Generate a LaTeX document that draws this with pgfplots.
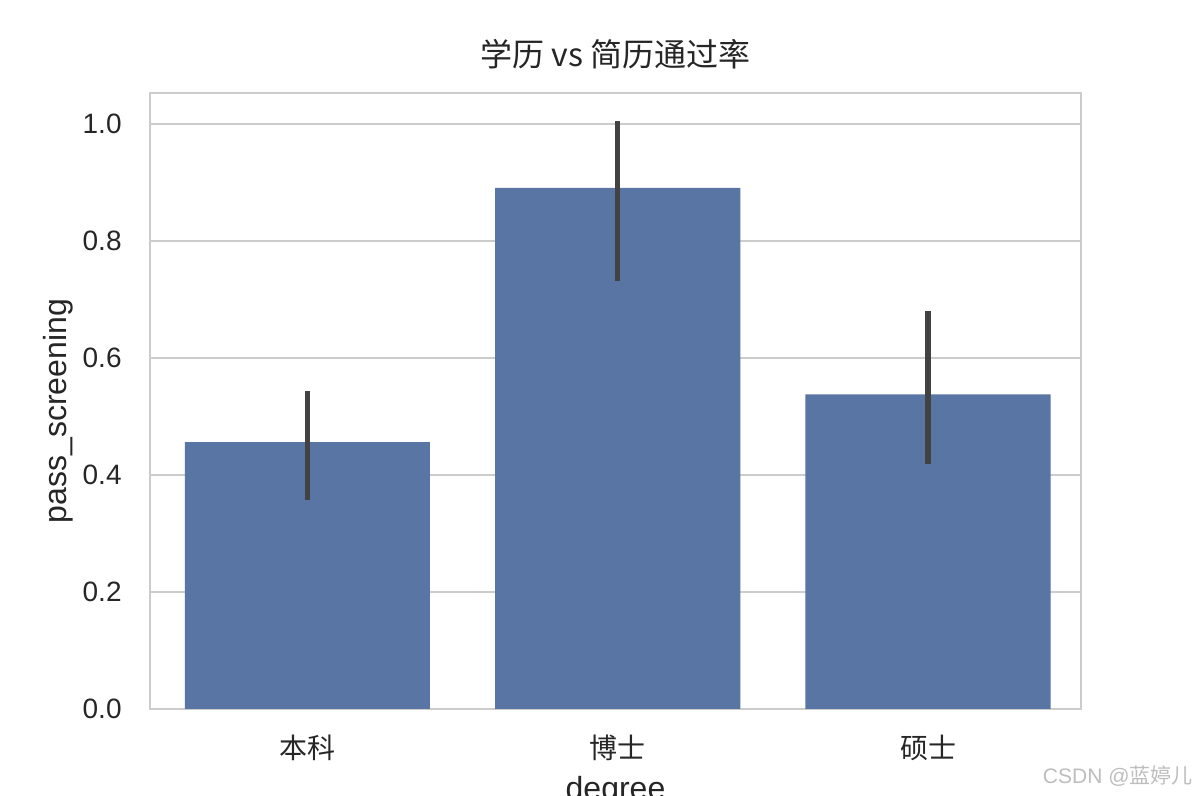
\documentclass[border=0pt]{standalone}
\usepackage{fontspec}
\setmainfont{Liberation Sans}
\newfontfamily\cjk{Noto Sans CJK SC}
\usepackage{pgfplots}
\pgfplotsset{compat=1.18}

\definecolor{barblue}{HTML}{5975A4}
\definecolor{errgray}{HTML}{424242}
\definecolor{gridgray}{HTML}{CCCCCC}
\definecolor{textgray}{HTML}{262626}
\definecolor{markgray}{HTML}{BDBDBD}

\begin{document}
\begin{tikzpicture}
\path[use as bounding box] (-75pt,-43.5pt) rectangle (524pt,354.5pt);
\begin{axis}[
    at={(0,0)}, anchor=south west,
    scale only axis, width=465.5pt, height=308pt,
    ybar, bar width=0.79,
    xmin=-0.507, xmax=2.493, ymin=0, ymax=1.053,
    xtick={0,1,2},
    xticklabels={{\cjk 本科},{\cjk 博士},{\cjk 硕士}},
    ytick={0,0.2,0.4,0.6,0.8,1.0},
    yticklabels={0.0,0.2,0.4,0.6,0.8,1.0},
    major tick length=0pt,
    tick style={draw=none},
    axis line style={draw=gridgray, line width=1.25pt},
    ymajorgrids, grid style={draw=gridgray, line width=1pt},
    ticklabel style={font=\fontsize{14}{16}\selectfont, text=textgray},
    yticklabel style={anchor=east, inner sep=0pt, xshift=-14pt},
    xticklabel style={anchor=center, inner sep=0pt, yshift=-19.5pt},
    title={\cjk 学历 vs 简历通过率},
    title style={at={(axis description cs:0.5,1)}, anchor=center, yshift=13.5pt,
        font=\fontsize{16}{18}\selectfont, text=textgray},
    xlabel={degree},
    xlabel style={at={(axis description cs:0.5,0)}, anchor=base, yshift=-45.5pt,
        font=\fontsize{16}{18}\selectfont, text=textgray},
    ylabel={pass\_screening},
    every axis y label/.style={at={(axis description cs:0,0.5)}, xshift=-46pt, yshift=-5pt,
        rotate=90, anchor=center, font=\fontsize{16}{18}\selectfont, text=textgray},
]
% mean pass rate per degree, with CI bounds
\addplot[fill=barblue, draw=none,
    error bars/.cd, y dir=both, y explicit,
    error bar style={draw=errgray, line width=2.8pt, line cap=rect},
    error mark=none]
coordinates {
    (0,0.456) += (0,0.082) -= (0,0.094)
    (1,0.891) += (0,0.109) -= (0,0.154)
    (2,0.538) += (0,0.137) -= (0,0.114)
};
\end{axis}
\node[anchor=east, inner sep=0pt, text=markgray, font=\fontsize{10.5}{12}\selectfont]
    at (521.5pt,-33.5pt) {CSDN @{\cjk 蓝婷儿}};
\end{tikzpicture}
\end{document}
